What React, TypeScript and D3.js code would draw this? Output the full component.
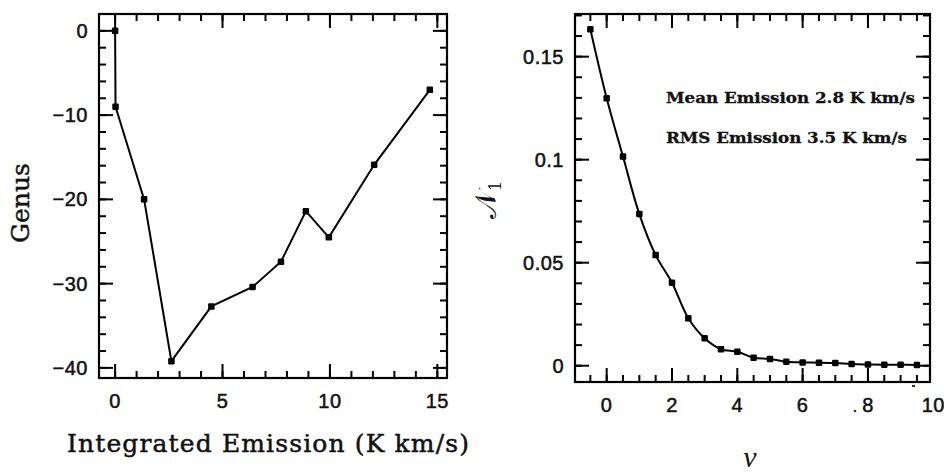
import React from "react";
import * as d3 from "d3";

// Left panel: Genus vs integrated emission
const genusX = [0, 0.02, 1.35, 2.62, 4.48, 6.4, 7.72, 8.88, 9.95, 12.06, 14.65];
const genusY = [0, -9, -20, -39.2, -32.7, -30.4, -27.4, -21.4, -24.5, -15.9, -7.0];
const leftXTicks = [0, 5, 10, 15];
const leftYTicks = [0, -10, -20, -30, -40];

// Right panel: N1 vs nu
const nuX = [-0.5, 0, 0.5, 1, 1.5, 2, 2.5, 3, 3.5, 4, 4.5, 5, 5.5, 6, 6.5, 7, 7.5, 8, 8.5, 9, 9.5];
const n1Y = [0.1633, 0.1298, 0.1015, 0.0736, 0.0537, 0.0403, 0.023, 0.0133, 0.008, 0.0068, 0.0039, 0.0033, 0.0019, 0.0016, 0.0015, 0.0013, 0.0008, 0.0006, 0.0005, 0.0005, 0.0004];
const rightXTicks = [0, 2, 4, 6, 8, 10];
const rightXTickLabels = ["0", "2", "4", "6", "8", "10"];
const rightYTicks = [0, 0.05, 0.1, 0.15];
const rightYTickLabels = ["0", "0.05", "0.1", "0.15"];
const notes = ["Mean Emission 2.8 K km/s", "RMS Emission 3.5 K km/s"];

const TICK_FONT = "'Liberation Sans', Arial, sans-serif";
const TITLE_FONT = "'DejaVu Serif', 'Liberation Serif', serif";

function range(a: number, b: number, step: number) {
  const out: number[] = [];
  for (let v = a; v <= b + 1e-9; v += step) out.push(+v.toFixed(6));
  return out;
}

type PanelProps = {
  x: d3.ScaleLinear<number, number>;
  y: d3.ScaleLinear<number, number>;
  xMajor: number[];
  xMinor: number[];
  yMajor: number[];
  yMinor: number[];
  xLabels: string[];
  yLabels: string[];
};

function Frame({ x, y, xMajor, xMinor, yMajor, yMinor, xLabels, yLabels }: PanelProps) {
  const [x0, x1] = x.range();
  const [y0, y1] = y.range(); // y0 bottom, y1 top
  const MAJ = 14, MIN = 7;
  const inX = (v: number) => v >= Math.min(...x.domain()) && v <= Math.max(...x.domain());
  const inY = (v: number) => v >= Math.min(...y.domain()) && v <= Math.max(...y.domain());
  return (
    <g stroke="#000" strokeWidth={2} fill="none">
      {xMinor.filter(inX).map((v, i) => (
        <g key={"xm" + i}>
          <line x1={x(v)} x2={x(v)} y1={y0} y2={y0 - MIN} />
          <line x1={x(v)} x2={x(v)} y1={y1} y2={y1 + MIN} />
        </g>
      ))}
      {xMajor.filter(inX).map((v, i) => (
        <g key={"xM" + i}>
          <line x1={x(v)} x2={x(v)} y1={y0} y2={y0 - MAJ} />
          <line x1={x(v)} x2={x(v)} y1={y1} y2={y1 + MAJ} />
        </g>
      ))}
      {yMinor.filter(inY).map((v, i) => (
        <g key={"ym" + i}>
          <line x1={x0} x2={x0 + MIN} y1={y(v)} y2={y(v)} />
          <line x1={x1} x2={x1 - MIN} y1={y(v)} y2={y(v)} />
        </g>
      ))}
      {yMajor.filter(inY).map((v, i) => (
        <g key={"yM" + i}>
          <line x1={x0} x2={x0 + MAJ} y1={y(v)} y2={y(v)} />
          <line x1={x1} x2={x1 - MAJ} y1={y(v)} y2={y(v)} />
        </g>
      ))}
      <rect x={x0} y={y1} width={x1 - x0} height={y0 - y1} strokeWidth={2.2} />
      <g stroke="#111" strokeWidth={0.5} fill="#111" fontFamily={TICK_FONT} fontSize={20}>
        {xMajor.map((v, i) => (
          <text key={"xl" + i} x={x(v)} y={y0 + 30} textAnchor="middle" letterSpacing={0.5}>
            {xLabels[i]}
          </text>
        ))}
        {yMajor.map((v, i) => (
          <text key={"yl" + i} x={x0 - 11} y={y(v) + 7} textAnchor="end" letterSpacing={0.5}>
            {yLabels[i]}
          </text>
        ))}
      </g>
    </g>
  );
}

export default function App() {
  // Left panel scales
  const lx = d3.scaleLinear().domain([-0.75, 15.45]).range([99, 447]);
  const ly = d3.scaleLinear().domain([-41.2, 2.0]).range([378, 14]);
  const leftLine = d3
    .line<number>()
    .x((_, i) => lx(genusX[i]))
    .y((d) => ly(d));

  // Right panel scales
  const rx = d3.scaleLinear().domain([-0.97, 9.9]).range([575, 930]);
  const ry = d3.scaleLinear().domain([-0.0079, 0.1707]).range([382, 14]);
  const rightLine = d3
    .line<number>()
    .x((_, i) => rx(nuX[i]))
    .y((d) => ry(d))
    .curve(d3.curveCatmullRom);

  const M = 6.5;

  return (
    <svg
      width={944}
      height={472}
      viewBox="0 0 944 472"
      style={{ position: "absolute", left: 0, top: 0, background: "#fff" }}
    >
      <rect x={0} y={0} width={944} height={472} fill="#fff" />

      {/* Left panel */}
      <Frame
        x={lx}
        y={ly}
        xMajor={leftXTicks}
        xMinor={range(0, 15, 1)}
        yMajor={leftYTicks}
        yMinor={range(-40, 2, 2)}
        xLabels={leftXTicks.map(String)}
        yLabels={leftYTicks.map((v) => (v < 0 ? "\u2212" + Math.abs(v) : String(v)))}
      />
      <path d={leftLine(genusY) || ""} fill="none" stroke="#000" strokeWidth={2} />
      {genusY.map((v, i) => (
        <rect key={"lp" + i} x={lx(genusX[i]) - M / 2} y={ly(v) - M / 2} width={M} height={M} rx={1.2} fill="#000" />
      ))}
      <text
        x={67}
        y={452}
        fontFamily={TITLE_FONT}
        fontSize={25}
        textLength={402}
        lengthAdjust="spacing"
        stroke="#111"
        strokeWidth={0.5}
        fill="#111"
      >
        Integrated Emission (K km/s)
      </text>
      <text
        transform="translate(29,203) rotate(-90)"
        textAnchor="middle"
        fontFamily={TITLE_FONT}
        fontSize={25}
        stroke="#111"
        strokeWidth={0.5}
        fill="#111"
      >
        Genus
      </text>

      {/* Right panel */}
      <Frame
        x={rx}
        y={ry}
        xMajor={rightXTicks}
        xMinor={range(-0.5, 9.5, 0.5)}
        yMajor={rightYTicks}
        yMinor={range(0, 0.17, 0.01)}
        xLabels={rightXTickLabels}
        yLabels={rightYTickLabels}
      />
      <path d={rightLine(n1Y) || ""} fill="none" stroke="#000" strokeWidth={2} />
      {n1Y.map((v, i) => (
        <rect key={"rp" + i} x={rx(nuX[i]) - M / 2} y={ry(v) - M / 2} width={M} height={M} rx={1.2} fill="#000" />
      ))}
      {notes.map((t, i) => (
        <text
          key={"n" + i}
          x={666}
          y={103 + i * 40}
          fontFamily="'DejaVu Serif', serif"
          fontWeight="bold"
          fontSize={14}
          textLength={i === 0 ? 249 : 241}
          lengthAdjust="spacingAndGlyphs"
          stroke="#111"
          strokeWidth={0.3}
          fill="#111"
        >
          {t}
        </text>
      ))}
      <text
        transform="translate(496,200) rotate(-90)"
        textAnchor="middle"
        fontFamily="'DejaVu Serif', 'DejaVu Sans', serif"
        fontSize={29}
        fill="#111"
      >
        {"\u{1D4A9}"}
        <tspan fontSize={16} dy={5}>1</tspan>
      </text>
      <text
        x={750}
        y={467}
        textAnchor="middle"
        fontFamily="'Liberation Serif', serif"
        fontStyle="italic"
        fontSize={30}
        fill="#111"
      >
        ν
      </text>
      {/* scan specks */}
      <circle cx={855} cy={411} r={1.3} fill="#333" />
      <rect x={912} y={385} width={3} height={2} fill="#333" />
    </svg>
  );
}
